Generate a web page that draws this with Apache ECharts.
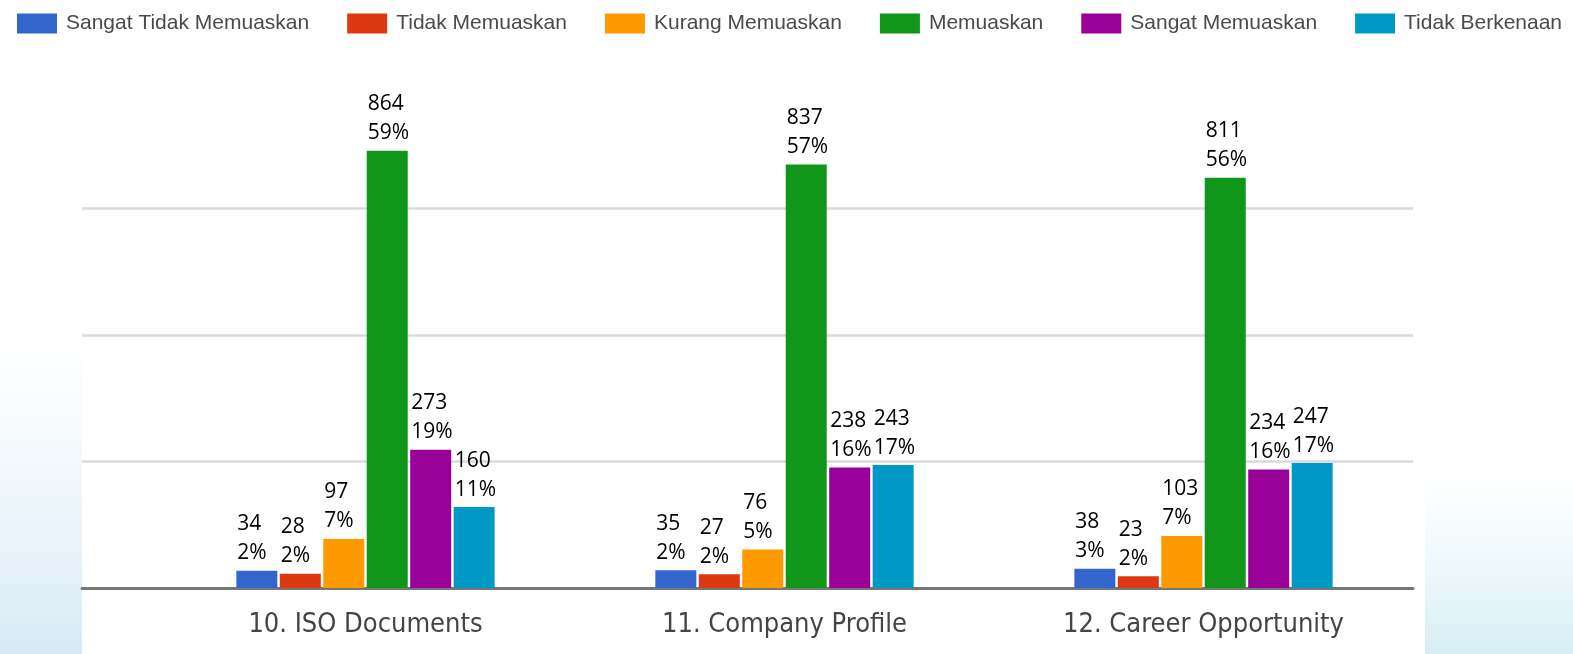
<!DOCTYPE html>
<html lang="en">
<head>
    <meta charset="UTF-8">
    <script src="https://cdn.jsdelivr.net/npm/echarts@6/dist/echarts.min.js"></script>
    <title>Kepuasan</title>
</head>
<body>
<style>
    html, body, #main {
        width: 100%;
        height: 100%;
        margin: 0;
        background: #fff;
    }
</style>
<div id='main'></div>
<script>
    // data
    var categories = ['10. ISO Documents', '11. Company Profile', '12. Career Opportunity'];
    var seriesNames = ['Sangat Tidak Memuaskan', 'Tidak Memuaskan', 'Kurang Memuaskan', 'Memuaskan', 'Sangat Memuaskan', 'Tidak Berkenaan'];
    var sangatTidak = [34, 35, 38];
    var tidak = [28, 27, 23];
    var kurang = [97, 76, 103];
    var memuaskan = [864, 837, 811];
    var sangat = [273, 238, 234];
    var berkenaan = [160, 243, 247];
    var sangatTidakPct = ['2%', '2%', '3%'];
    var tidakPct = ['2%', '2%', '2%'];
    var kurangPct = ['7%', '5%', '7%'];
    var memuaskanPct = ['59%', '57%', '56%'];
    var sangatPct = ['19%', '16%', '16%'];
    var berkenaanPct = ['11%', '17%', '17%'];

    var values = [sangatTidak, tidak, kurang, memuaskan, sangat, berkenaan];
    var pcts = [sangatTidakPct, tidakPct, kurangPct, memuaskanPct, sangatPct, berkenaanPct];
    var colors = ['#3366cc', '#dc3912', '#ff9900', '#109618', '#990099', '#0099c6'];

    var myChart = echarts.init(document.getElementById('main'));

    var series = [];
    for (var i = 0; i < seriesNames.length; i++) {
        (function (k) {
            series.push({
                name: seriesNames[k],
                type: 'bar',
                xAxisIndex: 1,
                yAxisIndex: 1,
                barWidth: 41,
                barGap: '6%',
                itemStyle: {color: colors[k]},
                label: {
                    show: true,
                    position: [1, -3],
                    align: 'left',
                    verticalAlign: 'bottom',
                    fontFamily: 'Open Sans',
                    fontSize: 21,
                    lineHeight: 29,
                    color: '#000',
                    formatter: function (p) {
                        return p.value + '\n' + pcts[k][p.dataIndex];
                    }
                },
                data: values[k]
            });
        })(i);
    }

    var option = {
        animation: false,
        graphic: [
            {
                type: 'rect', z: -10, silent: true,
                shape: {x: 0, y: 330, width: 82, height: 324},
                style: {
                    fill: new echarts.graphic.LinearGradient(0, 0, 0, 1, [
                        {offset: 0, color: 'rgba(225,240,248,0)'},
                        {offset: 1, color: 'rgba(205,228,242,0.8)'}
                    ])
                }
            },
            {
                type: 'rect', z: -10, silent: true,
                shape: {x: 1425, y: 470, width: 148, height: 184},
                style: {
                    fill: new echarts.graphic.LinearGradient(0, 0, 0, 1, [
                        {offset: 0, color: 'rgba(225,245,248,0)'},
                        {offset: 1, color: 'rgba(205,235,242,0.85)'}
                    ])
                }
            }
        ],
        legend: {
            left: 12,
            top: 8,
            itemWidth: 40,
            itemHeight: 20,
            itemGap: 38,
            icon: 'rect',
            textStyle: {
                fontFamily: 'Liberation Sans',
                fontSize: 21,
                color: '#4a4a4a',
                padding: [0, 0, 0, 4]
            },
            data: seriesNames
        },
        grid: [
            {left: 82, right: 160, top: 82, bottom: 66},
            {left: 156, right: 160, top: 82, bottom: 66}
        ],
        xAxis: [
            {
                gridIndex: 0,
                type: 'category',
                data: [''],
                axisLine: {lineStyle: {color: '#777', width: 3}},
                axisTick: {show: false},
                axisLabel: {show: false}
            },
            {
                gridIndex: 1,
                type: 'category',
                data: categories,
                axisLine: {show: false},
                axisTick: {show: false},
                axisLabel: {
                    margin: 23,
                    fontFamily: '"DejaVu Sans Condensed", "Liberation Sans", sans-serif',
                    fontSize: 27,
                    color: '#444'
                }
            }
        ],
        yAxis: [
            {
                gridIndex: 0,
                type: 'value',
                min: 0,
                max: 1000,
                interval: 250,
                axisLine: {show: false},
                axisTick: {show: false},
                axisLabel: {show: false},
                splitLine: {
                    lineStyle: {
                        color: ['rgba(0,0,0,0)', '#dadada', '#dadada', '#dadada', 'rgba(0,0,0,0)'],
                        width: 2.5
                    }
                }
            },
            {
                gridIndex: 1,
                type: 'value',
                min: 0,
                max: 1000,
                interval: 250,
                show: false,
                splitLine: {show: false}
            }
        ],
        series: series
    };

    myChart.setOption(option);
    window.onresize = myChart.resize;
</script>
</body>
</html>
